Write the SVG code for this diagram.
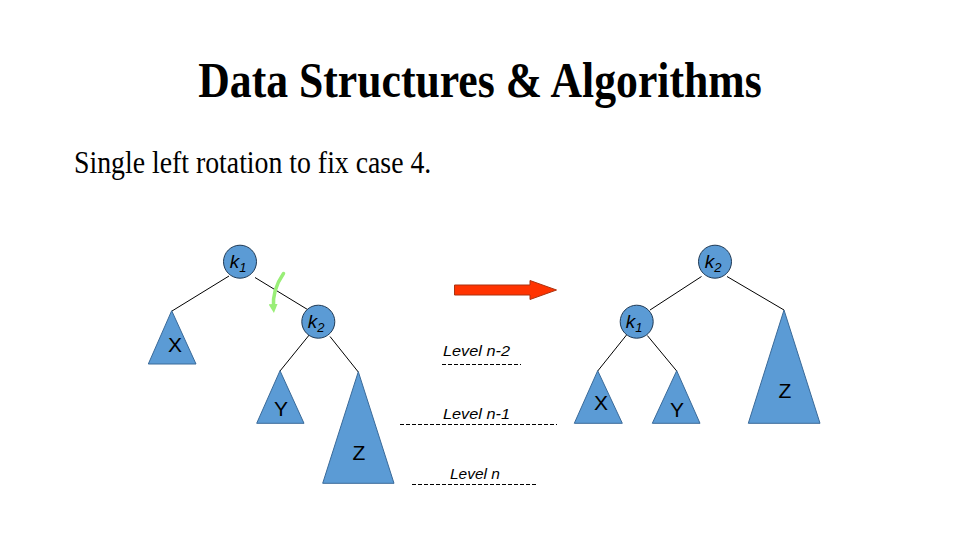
<svg xmlns="http://www.w3.org/2000/svg" width="960" height="540" viewBox="0 0 960 540">
<defs>
<style>
.nd{fill:#5b9bd5;stroke:#203a55;stroke-width:1}
.tri{fill:#5b9bd5;stroke:#3a6a99;stroke-width:1}
.ln{stroke:#000;stroke-width:1;fill:none}
.dash{stroke:#000;stroke-width:1;stroke-dasharray:4 2;fill:none}
.kl{font-family:"Liberation Sans",Arial,sans-serif;font-style:italic;font-size:19px;fill:#000;text-anchor:middle}
.tl{font-family:"Liberation Sans",Arial,sans-serif;font-size:21px;fill:#000;text-anchor:middle}
.lv{font-family:"Liberation Sans",Arial,sans-serif;font-style:italic;font-size:14px;fill:#000}
</style>
<marker id="gh" markerWidth="9" markerHeight="9" refX="4" refY="4.5" orient="auto" markerUnits="userSpaceOnUse">
<path d="M0,0 L9,4.5 L0,9 z" fill="#99ee77"/>
</marker>
</defs>
<rect width="960" height="540" fill="#fff"/>
<text x="480" y="0" transform="translate(0,97) scale(1,1.14)" font-family="'Liberation Serif','Times New Roman',serif" font-weight="bold" font-size="43.7" text-anchor="middle">Data Structures &amp; Algorithms</text>
<text x="74" y="0" transform="translate(0,173) scale(1,1.14)" font-family="'Liberation Serif','Times New Roman',serif" font-size="27.8">Single left rotation to fix case 4.</text>
<g id="connectors">
<line class="ln" x1="229" y1="276" x2="172" y2="311"/>
<line class="ln" x1="255" y1="277.5" x2="307.5" y2="309.5"/>
<line class="ln" x1="310" y1="334" x2="280" y2="371"/>
<line class="ln" x1="330" y1="336.5" x2="358.3" y2="372"/>
<line class="ln" x1="701.5" y1="276.5" x2="650" y2="310"/>
<line class="ln" x1="727" y1="276.5" x2="784" y2="310"/>
<line class="ln" x1="626.5" y1="335" x2="597.7" y2="371"/>
<line class="ln" x1="647.3" y1="335.5" x2="676.7" y2="371"/>
<path d="M283.5,273.5 Q272,290 273.5,308" stroke="#99ee77" stroke-width="3.5" fill="none" stroke-linecap="round" marker-end="url(#gh)"/>
</g>
<g id="arrow"><path d="M454.5,285 L530,285 L530,280.5 L556.5,290 L530,299.5 L530,295 L454.5,295 z" fill="#ff3300" stroke="#aa3311" stroke-width="1"/></g>
<g id="L_k1"><circle class="nd" cx="240" cy="261.7" r="16.5"/><text class="kl" x="238" y="268">k<tspan font-size="13" dy="4">1</tspan></text></g>
<g id="L_k2"><circle class="nd" cx="318.3" cy="321.7" r="16.5"/><text class="kl" x="316" y="328">k<tspan font-size="13" dy="4">2</tspan></text></g>
<g id="L_X"><polygon class="tri" points="171.7,310.7 148.3,364 196,364"/><text class="tl" x="175" y="352">X</text></g>
<g id="L_Y"><polygon class="tri" points="280,370.7 256.7,423.3 304,423.3"/><text class="tl" x="281" y="416">Y</text></g>
<g id="L_Z"><polygon class="tri" points="358.3,371.7 322.7,483.3 394,483.3"/><text class="tl" x="359" y="460">Z</text></g>
<g id="R_k2"><circle class="nd" cx="715" cy="261.7" r="16.5"/><text class="kl" x="713" y="268">k<tspan font-size="13" dy="4">2</tspan></text></g>
<g id="R_k1"><circle class="nd" cx="636.7" cy="321.7" r="16.5"/><text class="kl" x="634" y="328">k<tspan font-size="13" dy="4">1</tspan></text></g>
<g id="R_X"><polygon class="tri" points="597.7,370.7 574.3,423.3 622.3,423.3"/><text class="tl" x="601" y="410">X</text></g>
<g id="R_Y"><polygon class="tri" points="676.7,370.7 652.3,423.3 700,423.3"/><text class="tl" x="677" y="416.5">Y</text></g>
<g id="R_Z"><polygon class="tri" points="784,310 748.3,423.3 820,423.3"/><text class="tl" x="785" y="398">Z</text></g>
<g id="levels">
<text class="lv" x="443" y="356" textLength="67" lengthAdjust="spacingAndGlyphs">Level n-2</text>
<line class="dash" x1="442" y1="364.5" x2="521" y2="364.5"/>
<text class="lv" x="443" y="419" textLength="67" lengthAdjust="spacingAndGlyphs">Level n-1</text>
<line class="dash" x1="400" y1="424.5" x2="557" y2="424.5"/>
<text class="lv" x="450" y="479" textLength="50" lengthAdjust="spacingAndGlyphs">Level n</text>
<line class="dash" x1="412" y1="484.5" x2="536" y2="484.5"/>
</g>
</svg>
